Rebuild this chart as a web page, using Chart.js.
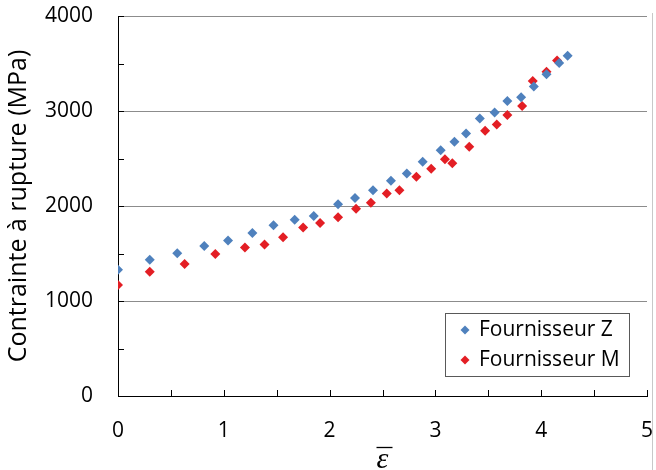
<!DOCTYPE html>
<html>
<head>
<meta charset="utf-8">
<script src="https://cdn.jsdelivr.net/npm/chart.js@4"></script>
<style>
  html, body { margin: 0; padding: 0; background: #fff; }
  #wrap { width: 656px; height: 470px; }
</style>
</head>
<body>
<div id="wrap"><canvas id="chart" width="656" height="470"></canvas></div>
<script>
// Fournisseur Z (blue) - strain and rupture stress
const strainZ = [0, 0.30, 0.56, 0.815, 1.04, 1.27, 1.47, 1.67, 1.85, 2.08, 2.24, 2.41, 2.58,
  2.73, 2.88, 3.05, 3.18, 3.29, 3.42, 3.56, 3.68, 3.81, 3.93, 4.05, 4.17, 4.25];
const stressZ = [1330, 1435, 1502, 1580, 1636, 1717, 1797, 1854, 1896, 2019, 2083, 2167, 2266,
  2343, 2466, 2586, 2677, 2762, 2920, 2983, 3106, 3145, 3258, 3388, 3504, 3581];

// Fournisseur M (red)
const strainM = [0, 0.30, 0.63, 0.92, 1.20, 1.385, 1.56, 1.75, 1.91, 2.08, 2.25, 2.39, 2.54,
  2.66, 2.82, 2.96, 3.09, 3.16, 3.32, 3.47, 3.58, 3.68, 3.82, 3.92, 4.05, 4.15];
const stressM = [1168, 1309, 1390, 1495, 1562, 1596, 1671, 1773, 1822, 1882, 1970, 2033, 2132,
  2165, 2308, 2392, 2491, 2449, 2624, 2793, 2857, 2957, 3053, 3317, 3412, 3532];

const seriesNames = ['Fournisseur Z', 'Fournisseur M'];
const seriesColors = ['#4f81bd', '#e31e24'];

// Axis ticks
const xTicks = [0, 1, 2, 3, 4, 5];
const yTicks = [0, 1000, 2000, 3000, 4000];

const FONT = "'Open Sans', 'Noto Sans', sans-serif";

function toPoints(xs, ys) {
  return xs.map((x, i) => ({ x: x, y: ys[i] }));
}

// Small inside tick marks every 0.5 / 500, bar over epsilon, outer frame line
const tickMarks = {
  id: 'tickMarks',
  afterDraw(chart) {
    const ctx = chart.ctx;
    const xs = chart.scales.x, ys = chart.scales.y;
    ctx.save();
    ctx.strokeStyle = '#000';
    ctx.lineWidth = 1;
    ctx.beginPath();
    for (let v = 0; v <= 5.001; v += 0.5) {
      const px = Math.round(xs.getPixelForValue(v)) + 0.5;
      ctx.moveTo(px, ys.bottom);
      ctx.lineTo(px, ys.bottom - 6);
    }
    for (let v = 0; v <= 4000; v += 500) {
      const py = Math.round(ys.getPixelForValue(v)) + 0.5;
      ctx.moveTo(xs.left, py);
      ctx.lineTo(xs.left + 6, py);
    }
    ctx.stroke();
    // bar over the epsilon axis title
    const cx = (xs.left + xs.right) / 2;
    ctx.lineWidth = 1.3;
    ctx.beginPath();
    ctx.moveTo(cx - 6, 447.5);
    ctx.lineTo(cx + 10, 447.5);
    ctx.stroke();
    // light outer border on the right
    ctx.strokeStyle = '#c8c8c8';
    ctx.lineWidth = 1;
    ctx.beginPath();
    ctx.moveTo(652.5, 13);
    ctx.lineTo(652.5, 470);
    ctx.stroke();
    ctx.restore();
  }
};

// Legend drawn inside the plot area, bottom right
const boxLegend = {
  id: 'boxLegend',
  afterDraw(chart) {
    const ctx = chart.ctx;
    const left = 445, top = 313, w = 184, h = 63;
    ctx.save();
    ctx.fillStyle = '#fff';
    ctx.fillRect(left, top, w, h);
    ctx.strokeStyle = '#595959';
    ctx.lineWidth = 1;
    ctx.strokeRect(left + 0.5, top + 0.5, w, h);
    ctx.font = '21px ' + FONT;
    ctx.textBaseline = 'middle';
    chart.data.datasets.forEach((ds, i) => {
      const cy = top + 17 + i * 30;
      const cx = left + 20;
      ctx.fillStyle = ds.backgroundColor;
      ctx.beginPath();
      ctx.moveTo(cx, cy - 4.5);
      ctx.lineTo(cx + 4.5, cy);
      ctx.lineTo(cx, cy + 4.5);
      ctx.lineTo(cx - 4.5, cy);
      ctx.closePath();
      ctx.fill();
      ctx.fillStyle = '#000';
      ctx.fillText(ds.label, left + 34, cy);
    });
    ctx.restore();
  }
};

new Chart(document.getElementById('chart'), {
  type: 'scatter',
  data: {
    datasets: [
      {
        label: seriesNames[0],
        data: toPoints(strainZ, stressZ),
        backgroundColor: seriesColors[0],
        borderWidth: 0,
        pointStyle: 'rectRot',
        pointRadius: 5,
        pointHoverRadius: 5
      },
      {
        label: seriesNames[1],
        data: toPoints(strainM, stressM),
        backgroundColor: seriesColors[1],
        borderWidth: 0,
        pointStyle: 'rectRot',
        pointRadius: 5,
        pointHoverRadius: 5
      }
    ]
  },
  options: {
    responsive: false,
    animation: false,
    layout: { padding: { top: 16, right: 9, left: 0, bottom: 0 } },
    plugins: {
      legend: { display: false },
      tooltip: { enabled: false }
    },
    scales: {
      x: {
        type: 'linear',
        min: 0,
        max: 5,
        afterBuildTicks(scale) { scale.ticks = xTicks.map(v => ({ value: v })); },
        afterFit(scale) {
          scale.height = 74;
          scale.paddingLeft = 0; scale.paddingRight = 0;
        },
        ticks: { color: '#000', font: { family: FONT, size: 21 }, padding: 22, callback: v => String(v) },
        grid: { display: true, drawOnChartArea: false, drawTicks: false, color: '#000' },
        border: { display: true, color: '#000', width: 1 },
        title: {
          display: true,
          text: 'ε',
          color: '#000',
          font: { family: "'Liberation Serif', 'DejaVu Serif', serif", size: 30, style: 'italic' },
          padding: { top: 0, bottom: -8 }
        }
      },
      y: {
        type: 'linear',
        min: 0,
        max: 4000,
        afterBuildTicks(scale) { scale.ticks = yTicks.map(v => ({ value: v })); },
        afterFit(scale) {
          scale.width = 118;
          scale.paddingTop = 0; scale.paddingBottom = 0;
        },
        ticks: { color: '#000', font: { family: FONT, size: 21 }, padding: 25, callback: v => String(v) },
        grid: {
          drawTicks: false,
          color: ctx => (ctx.tick && ctx.tick.value === 0) ? 'rgba(0,0,0,0)' : '#8c8c8c',
          lineWidth: 1
        },
        border: { display: true, color: '#000', width: 1 },
        title: {
          display: true,
          text: 'Contrainte à rupture (MPa)',
          color: '#000',
          font: { family: FONT, size: 25 },
          padding: { top: 4, bottom: 0 }
        }
      }
    }
  },
  plugins: [tickMarks, boxLegend]
});
</script>
</body>
</html>
